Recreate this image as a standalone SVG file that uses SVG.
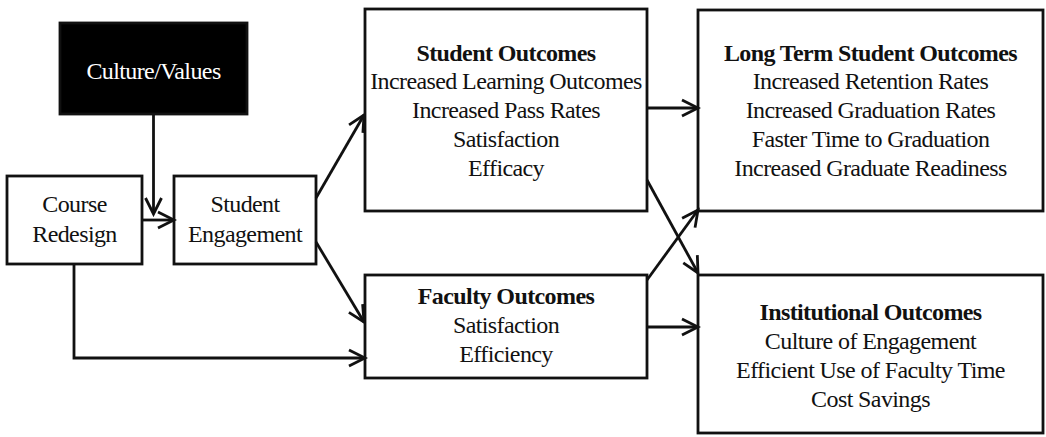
<svg xmlns="http://www.w3.org/2000/svg" width="1046" height="437" viewBox="0 0 1046 437">
<style>
.box{fill:#fff;stroke:#111;stroke-width:2.8}
.dark{fill:#000;stroke:#111;stroke-width:2.8}
text{font-family:"Liberation Serif","Times New Roman",serif;font-size:24px;letter-spacing:-0.6px;text-anchor:middle;fill:#111}
.b{font-weight:bold}
.w{fill:#fff}
.c{fill:none;stroke:#111;stroke-width:2.8}
</style>
<defs>
<marker id="ah" viewBox="0 0 20 20" refX="17" refY="10" markerWidth="20" markerHeight="20" markerUnits="userSpaceOnUse" orient="auto">
<path d="M1,2 L17,10 L1,18" fill="none" stroke="#111" stroke-width="2.8"/>
</marker>
</defs>
<rect width="1046" height="437" fill="#fff"/>
<g id="culture">
<rect class="dark" x="60" y="23" width="187" height="91"/>
<text class="w" x="153.5" y="79">Culture/Values</text>
</g>
<g id="course">
<rect class="box" x="7" y="176" width="135" height="88"/>
<text x="74.5" y="212">Course</text>
<text x="74.5" y="242">Redesign</text>
</g>
<g id="engagement">
<rect class="box" x="174" y="176" width="142" height="88"/>
<text x="245" y="212">Student</text>
<text x="245" y="242">Engagement</text>
</g>
<g id="student-outcomes">
<rect class="box" x="365" y="9" width="282" height="202"/>
<text class="b" x="506" y="61">Student Outcomes</text>
<text x="506" y="89">Increased Learning Outcomes</text>
<text x="506" y="118">Increased Pass Rates</text>
<text x="506" y="147">Satisfaction</text>
<text x="506" y="176">Efficacy</text>
</g>
<g id="faculty-outcomes">
<rect class="box" x="365" y="275" width="282" height="103"/>
<text class="b" x="506" y="304">Faculty Outcomes</text>
<text x="506" y="333">Satisfaction</text>
<text x="506" y="362">Efficiency</text>
</g>
<g id="long-term">
<rect class="box" x="698" y="10" width="345" height="201"/>
<text class="b" x="870.5" y="61">Long Term Student Outcomes</text>
<text x="870.5" y="89">Increased Retention Rates</text>
<text x="870.5" y="118">Increased Graduation Rates</text>
<text x="870.5" y="147">Faster Time to Graduation</text>
<text x="870.5" y="176">Increased Graduate Readiness</text>
</g>
<g id="institutional">
<rect class="box" x="698" y="275" width="345" height="158"/>
<text class="b" x="870.5" y="320">Institutional Outcomes</text>
<text x="870.5" y="349">Culture of Engagement</text>
<text x="870.5" y="378">Efficient Use of Faculty Time</text>
<text x="870.5" y="407">Cost Savings</text>
</g>
<g id="connectors">
<line class="c" x1="153.5" y1="114" x2="153.5" y2="214" marker-end="url(#ah)"/>
<line class="c" x1="142" y1="220" x2="174" y2="220" marker-end="url(#ah)"/>
<polyline class="c" points="74,264 74,358 365,358" marker-end="url(#ah)"/>
<line class="c" x1="316" y1="198" x2="364" y2="115" marker-end="url(#ah)"/>
<line class="c" x1="316" y1="242" x2="364" y2="322" marker-end="url(#ah)"/>
<line class="c" x1="647" y1="108" x2="698" y2="108" marker-end="url(#ah)"/>
<line class="c" x1="647" y1="327" x2="698" y2="327" marker-end="url(#ah)"/>
<line class="c" x1="647" y1="180" x2="698" y2="273" marker-end="url(#ah)"/>
<line class="c" x1="647" y1="280" x2="698" y2="210" marker-end="url(#ah)"/>
</g>
</svg>
